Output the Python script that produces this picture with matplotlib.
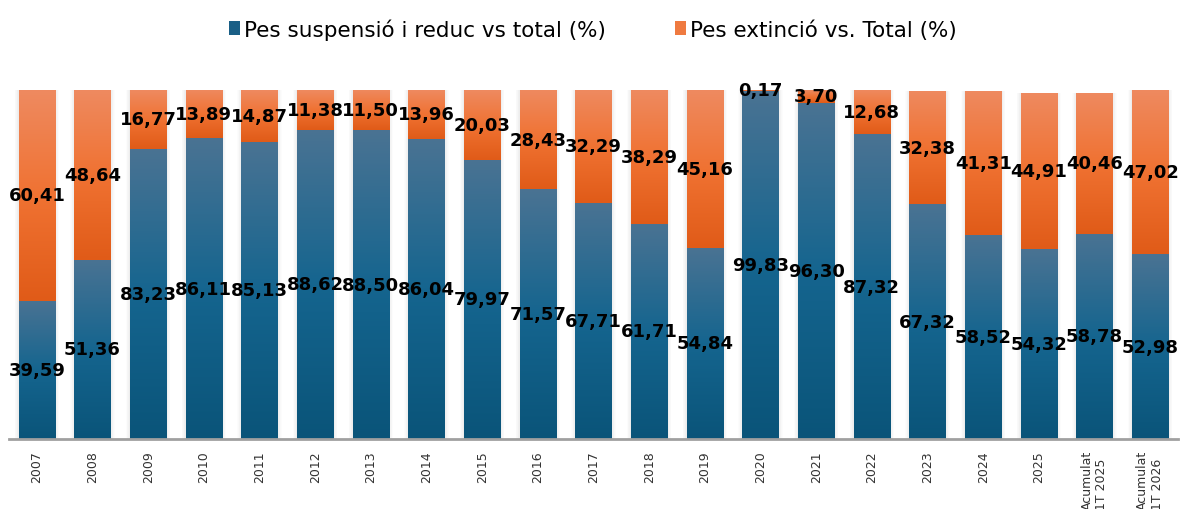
import matplotlib.pyplot as plt
import numpy as np
from matplotlib.colors import LinearSegmentedColormap
from matplotlib.patches import Patch, Rectangle

categories = ['2007', '2008', '2009', '2010', '2011', '2012', '2013', '2014', '2015',
              '2016', '2017', '2018', '2019', '2020', '2021', '2022', '2023', '2024',
              '2025', 'Acumulat\n1T 2025', 'Acumulat\n1T 2026']
suspensio = [39.59, 51.36, 83.23, 86.11, 85.13, 88.62, 88.50, 86.04, 79.97, 71.57, 67.71,
             61.71, 54.84, 99.83, 96.30, 87.32, 67.32, 58.52, 54.32, 58.78, 52.98]
extincio = [60.41, 48.64, 16.77, 13.89, 14.87, 11.38, 11.50, 13.96, 20.03, 28.43, 32.29,
            38.29, 45.16, 0.17, 3.70, 12.68, 32.38, 41.31, 44.91, 40.46, 47.02]
series_names = ['Pes suspensió i reduc vs total (%)', 'Pes extinció vs. Total (%)']

blue_cmap = LinearSegmentedColormap.from_list('b', ['#0a5479', '#15658f', '#4a7393'])
orange_cmap = LinearSegmentedColormap.from_list('o', ['#e05b18', '#f07232', '#ee8a60'])

fig = plt.figure(figsize=(11.86, 5.10), dpi=100)
ax = fig.add_axes([9 / 1186, 1 - 440 / 510, 1169 / 1186, 349 / 510])

x = np.arange(len(categories))
width = 0.65
grad = np.linspace(0, 1, 256).reshape(-1, 1)


def gradient_bars(bars, cmap):
    for b in bars:
        x0, y0 = b.get_x(), b.get_y()
        w, h = b.get_width(), b.get_height()
        im = ax.imshow(grad, cmap=cmap, origin='lower', aspect='auto',
                       extent=(x0, x0 + w, y0, y0 + h), interpolation='bicubic', zorder=3)
        im.set_clip_path(b)


# soft shadow behind bars
for xi, s, e in zip(x, suspensio, extincio):
    for k in range(1, 7):
        ax.add_patch(Rectangle((xi - width / 2 - k * 0.012, 0), width + 2 * k * 0.012, s + e,
                               facecolor='#808080', alpha=0.025, lw=0, zorder=1))

b1 = ax.bar(x, suspensio, width, color='none', lw=0, zorder=2)
b2 = ax.bar(x, extincio, width, bottom=suspensio, color='none', lw=0, zorder=2)
gradient_bars(b1, blue_cmap)
gradient_bars(b2, orange_cmap)

fmt = lambda v: f'{v:.2f}'.replace('.', ',')
for xi, s, e in zip(x, suspensio, extincio):
    ax.text(xi, s / 2, fmt(s), ha='center', va='center', fontsize=13,
            fontweight='bold', color='black', zorder=5)
    ax.text(xi, s + e / 2, fmt(e), ha='center', va='center', fontsize=13,
            fontweight='bold', color='black', zorder=5)

ax.set_xlim(-0.5, len(categories) - 0.5)
ax.set_ylim(0, 100)
ax.set_yticks([])
ax.set_xticks(x)
ax.set_xticklabels(categories, rotation=90, fontsize=9, va='top', ha='center',
                   multialignment='left', color='#333333')
ax.tick_params(axis='x', length=0, pad=8)
for side in ['top', 'left', 'right']:
    ax.spines[side].set_visible(False)
ax.spines['bottom'].set_color('#a0a0a0')
ax.spines['bottom'].set_linewidth(2)
ax.spines['bottom'].set_zorder(6)

handles = [Patch(facecolor='#1a5f86', edgecolor='none'),
           Patch(facecolor='#ef7a40', edgecolor='none')]
fig.legend(handles, series_names, loc='upper center', bbox_to_anchor=(0.5, 1.0), ncol=2,
           frameon=False, fontsize=15.5, handlelength=0.5, handleheight=0.6,
           handletextpad=0.2, columnspacing=3.2)

fig.savefig('out.png', dpi=100)
